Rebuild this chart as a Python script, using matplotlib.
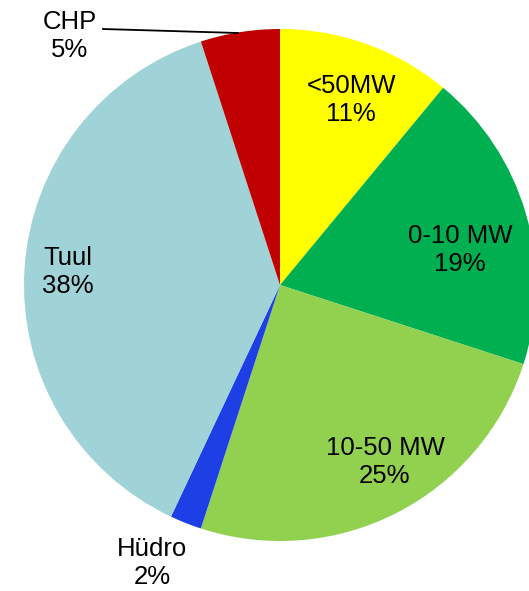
import matplotlib
matplotlib.use('Agg')
import matplotlib.pyplot as plt
from matplotlib.lines import Line2D

# Slice data (clockwise from 12 o'clock)
labels = ['<50MW', '0-10 MW', '10-50 MW', 'Hüdro', 'Tuul', 'CHP']
shares = [11, 19, 25, 2, 38, 5]
colors = ['#FFFF00', '#00B050', '#92D050', '#1F3FE6', '#A0D3D8', '#C00000']

# label centres in pixels (x from left, y from top)
label_px = [(351, 100), (460, 250), (385, 462), (152, 563), (68, 272), (70, 36)]

W, H = 529, 591
fig = plt.figure(figsize=(W / 100, H / 100), dpi=100)
plt.rcParams['font.family'] = ['Liberation Sans', 'DejaVu Sans']

# pie bounding box in pixels: left 24, top 29, size 512
ax = fig.add_axes([24 / W, (H - 541) / H, 512 / W, 512 / H])
wedges, _ = ax.pie(shares, colors=colors, startangle=90, counterclock=False,
                   radius=1, wedgeprops=dict(linewidth=0))
for w in wedges:
    w.set_clip_on(False)
ax.set_xlim(-1, 1)
ax.set_ylim(-1, 1)
ax.axis('off')

for lab, val, (px, py) in zip(labels, shares, label_px):
    fig.text(px / W, 1 - py / H, f'{lab}\n{val}%', ha='center', va='center',
             fontsize=18.5, linespacing=1.17, color='black')

# leader line for CHP
fig.add_artist(Line2D([103 / W, 238 / W], [1 - 29 / H, 1 - 33 / H],
                      transform=fig.transFigure, color='black', lw=1.3))

fig.savefig('out.png', dpi=100)
